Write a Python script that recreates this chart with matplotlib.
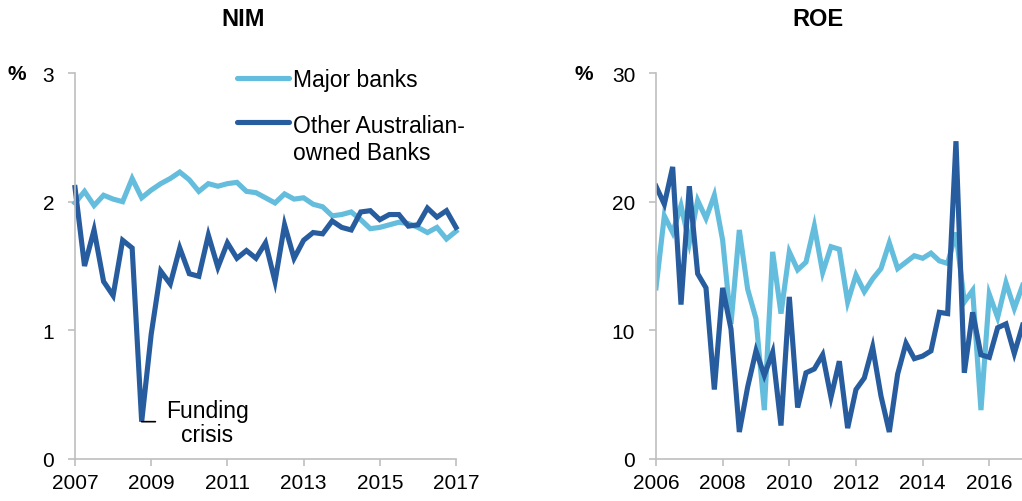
import numpy as np
import matplotlib
matplotlib.use("Agg")
import matplotlib.pyplot as plt

plt.rcParams['font.family'] = ['Liberation Sans', 'DejaVu Sans']

# Quarterly net interest margin (%), 2007 Q1 .. 2017 Q1
nim_start = 2007.0
nim_major = [1.99, 2.08, 1.97, 2.05, 2.02, 2.00, 2.18, 2.03, 2.09, 2.14,
             2.18, 2.23, 2.17, 2.08, 2.14, 2.12, 2.14, 2.15, 2.08, 2.07,
             2.03, 1.99, 2.06, 2.02, 2.03, 1.98, 1.96, 1.89, 1.90, 1.92,
             1.86, 1.79, 1.80, 1.82, 1.84, 1.83, 1.80, 1.76, 1.80, 1.71,
             1.77]
nim_other = [2.11, 1.50, 1.78, 1.38, 1.27, 1.70, 1.64, 0.29, 0.97, 1.46,
             1.36, 1.64, 1.44, 1.42, 1.74, 1.49, 1.68, 1.56, 1.62, 1.56,
             1.68, 1.38, 1.82, 1.56, 1.70, 1.76, 1.75, 1.85, 1.80, 1.78,
             1.92, 1.93, 1.86, 1.90, 1.90, 1.81, 1.82, 1.95, 1.88, 1.93,
             1.80]

# Quarterly return on equity (%), 2006 Q1 .. 2017 Q1
roe_start = 2006.0
roe_major = [13.3, 18.9, 17.6, 19.7, 16.8, 20.1, 18.7, 20.5, 17.0, 10.5,
             17.8, 13.2, 10.9, 3.8, 16.1, 11.3, 16.1, 14.7, 15.3, 18.1,
             14.5, 16.5, 16.3, 12.2, 14.3, 13.0, 14.0, 14.8, 16.8, 14.8,
             15.3, 15.8, 15.6, 16.0, 15.4, 15.2, 17.6, 12.2, 13.1, 3.8,
             12.8, 11.0, 13.7, 11.7, 13.5]
roe_other = [21.2, 19.8, 22.7, 12.0, 21.2, 14.4, 13.3, 5.4, 13.3, 10.1,
             2.1, 5.6, 8.4, 6.5, 8.3, 2.6, 12.6, 4.0, 6.7, 7.0,
             8.1, 4.8, 7.6, 2.4, 5.4, 6.3, 8.7, 4.9, 2.1, 6.6,
             9.0, 7.8, 8.0, 8.4, 11.4, 11.3, 24.7, 6.7, 11.4, 8.1,
             7.9, 10.2, 10.5, 8.2, 10.4]

series_labels = ["Major banks", "Other Australian-\nowned Banks"]
nim_xticks = [2007, 2009, 2011, 2013, 2015, 2017]
nim_yticks = [0, 1, 2, 3]
roe_xticks = [2006, 2008, 2010, 2012, 2014, 2016]
roe_yticks = [0, 10, 20, 30]

LIGHT = "#64BDDC"
DARK = "#275C9E"
GRID_GREY = "#BFBFBF"
LW = 3.7

W, H = 1022, 502
fig = plt.figure(figsize=(W / 100, H / 100), dpi=100)


def px_axes(left, right, top, bottom):
    return fig.add_axes([left / W, 1 - bottom / H, (right - left) / W, (bottom - top) / H])


def style(ax, xticks, yticks):
    for s in ("top", "right"):
        ax.spines[s].set_visible(False)
    for s in ("left", "bottom"):
        ax.spines[s].set_color(GRID_GREY)
        ax.spines[s].set_linewidth(1.2)
    ax.set_xticks(xticks)
    ax.set_yticks(yticks)
    ax.tick_params(axis="both", colors=GRID_GREY, labelcolor="black",
                   labelsize=15, length=5, width=1.2, direction="out")
    ax.tick_params(axis="y", pad=10)
    ax.tick_params(axis="x", pad=5)


def quarters(start, n):
    return start + 0.25 * np.arange(n)


# ---- NIM panel ----
ax1 = px_axes(75, 456, 74, 460)
x1 = quarters(nim_start, len(nim_major))
ax1.plot(x1, nim_major, color=LIGHT, lw=LW, solid_joinstyle="miter", clip_on=False)
ax1.plot(x1, nim_other, color=DARK, lw=LW, solid_joinstyle="miter", clip_on=False)
ax1.set_xlim(2007, 2017)
ax1.set_ylim(0, 3)
style(ax1, nim_xticks, nim_yticks)

# Legend drawn as sample lines with labels
leg_x0, leg_x1, leg_tx = 0.425, 0.562, 0.572
ax1.plot([leg_x0, leg_x1], [0.988, 0.988], transform=ax1.transAxes,
         color=LIGHT, lw=LW, clip_on=False, solid_capstyle="round")
ax1.plot([leg_x0, leg_x1], [0.873, 0.873], transform=ax1.transAxes,
         color=DARK, lw=LW, clip_on=False, solid_capstyle="round")
ax1.text(leg_tx, 0.984, series_labels[0], transform=ax1.transAxes,
         fontsize=16.5, va="center", ha="left")
ax1.text(leg_tx, 0.893, series_labels[1], transform=ax1.transAxes,
         fontsize=16.5, va="top", ha="left", linespacing=1.2)

# Funding crisis annotation
crisis_idx = int(np.argmin(nim_other))
ax1.annotate("", xy=(x1[crisis_idx], nim_other[crisis_idx]),
             xytext=(x1[crisis_idx] + 0.36, nim_other[crisis_idx]),
             arrowprops=dict(arrowstyle="-", color="black", lw=1.2,
                             shrinkA=0, shrinkB=0))
ax1.text(x1[crisis_idx] + 1.72, nim_other[crisis_idx] - 0.005, "Funding\ncrisis",
         fontsize=16.5, ha="center", va="center", linespacing=1.05)

# ---- ROE panel ----
ax2 = px_axes(656, 656 + 11.5 * 33.33, 74, 460)
x2 = quarters(roe_start, len(roe_major))
ax2.plot(x2, roe_major, color=LIGHT, lw=LW, solid_joinstyle="miter")
ax2.plot(x2, roe_other, color=DARK, lw=LW, solid_joinstyle="miter")
ax2.set_xlim(2006, 2017.5)
ax2.set_ylim(0, 30)
style(ax2, roe_xticks, roe_yticks)

# Titles and unit labels
fig.text(243 / W, 1 - 19 / H, "NIM", fontsize=17, fontweight="bold", ha="center", va="center")
fig.text(818 / W, 1 - 19 / H, "ROE", fontsize=17, fontweight="bold", ha="center", va="center")
fig.text(17 / W, 1 - 75 / H, "%", fontsize=15, fontweight="bold", ha="center", va="center")
fig.text(584 / W, 1 - 75 / H, "%", fontsize=15, fontweight="bold", ha="center", va="center")

fig.savefig("out.png", dpi=100)
